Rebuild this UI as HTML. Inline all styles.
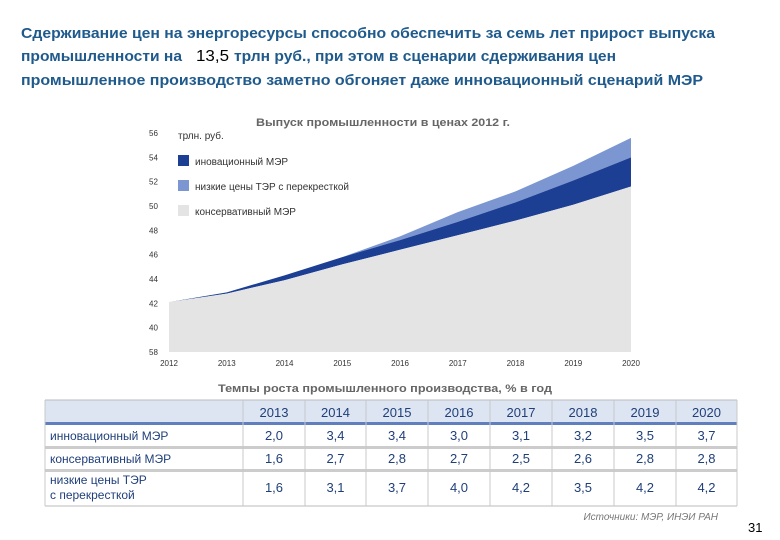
<!DOCTYPE html>
<html><head><meta charset="utf-8"><style>
html,body{margin:0;padding:0;background:#fff;}
svg{display:block;font-family:"Liberation Sans","DejaVu Sans",sans-serif;}
</style></head><body>
<svg id="s" width="780" height="540" viewBox="0 0 780 540">
<g fill="#1f5a8c" font-weight="bold" font-size="15">
<text x="21" y="38" textLength="694" lengthAdjust="spacingAndGlyphs">Сдерживание цен на энергоресурсы способно обеспечить за семь лет прирост выпуска</text>
<text x="21" y="61" textLength="161" lengthAdjust="spacingAndGlyphs">промышленности на</text>
<text x="196" y="61" fill="#000" font-weight="normal" font-size="16" textLength="33" lengthAdjust="spacingAndGlyphs">13,5</text>
<text x="234" y="61" textLength="382" lengthAdjust="spacingAndGlyphs">трлн руб., при этом в сценарии сдерживания цен</text>
<text x="21" y="85" textLength="682" lengthAdjust="spacingAndGlyphs">промышленное производство заметно обгоняет даже инновационный сценарий МЭР</text>
</g>
<text x="383" y="126" text-anchor="middle" font-size="11" font-weight="bold" fill="#666" textLength="254" lengthAdjust="spacingAndGlyphs">Выпуск промышленности в ценах 2012 г.</text>
<g id="chart"></g>
<g id="legend" font-size="10" fill="#333">
<text x="178" y="139">трлн. руб.</text>
<rect x="178" y="155" width="11" height="11" fill="#1c3f94"/>
<text x="195" y="165">иновационный МЭР</text>
<rect x="178" y="180" width="11" height="11" fill="#7b96d0"/>
<text x="195" y="190">низкие цены ТЭР с перекресткой</text>
<rect x="178" y="205" width="11" height="11" fill="#e4e4e4"/>
<text x="195" y="215">консервативный МЭР</text>
</g>
<text x="385" y="392" text-anchor="middle" font-size="11" font-weight="bold" fill="#666" textLength="334" lengthAdjust="spacingAndGlyphs">Темпы роста промышленного производства, % в   год</text>
<g id="table"></g>
<text x="718" y="520" text-anchor="end" font-size="10" font-style="italic" fill="#777">Источники: МЭР, ИНЭИ РАН</text>
<text x="748" y="532" font-size="13" fill="#000">31</text>
</svg>
<script>
const years=[2012,2013,2014,2015,2016,2017,2018,2019,2020];
const conservative=[42.1,42.8,43.9,45.2,46.4,47.6,48.8,50.1,51.6];
const innovation=[42.1,42.9,44.3,45.8,47.2,48.7,50.3,52.1,54.0];
const lowPrices=[42.1,42.9,44.3,45.8,47.5,49.5,51.2,53.3,55.6];
const yTicks=[38,40,42,44,46,48,50,52,54,56];
const yTickLabels=['58','40','42','44','46','48','50','52','54','56'];
const tableYears=['2013','2014','2015','2016','2017','2018','2019','2020'];
const rowLabels=[['инновационный МЭР'],['консервативный МЭР'],['низкие цены ТЭР','с перекресткой']];
const rowValues=[['2,0','3,4','3,4','3,0','3,1','3,2','3,5','3,7'],['1,6','2,7','2,8','2,7','2,5','2,6','2,8','2,8'],['1,6','3,1','3,7','4,0','4,2','3,5','4,2','4,2']];
const NS='http://www.w3.org/2000/svg';
function mk(tag,attrs,parent,txt){const e=document.createElementNS(NS,tag);for(const k in attrs)e.setAttribute(k,attrs[k]);if(txt!==undefined)e.textContent=txt;parent.appendChild(e);return e;}
const x=y=>169+(y-2012)*(631-169)/8;
const yv=v=>352-(v-38)*(352-133)/18;
const ch=document.getElementById('chart');
function area(top,bottom,fill,name){let d='M'+years.map((yr,i)=>x(yr)+','+yv(top[i])).join('L');
for(let i=years.length-1;i>=0;i--)d+='L'+x(years[i])+','+(bottom?yv(bottom[i]):yv(38));d+='Z';
const p=mk('path',{d:d,fill:fill},ch);}
area(lowPrices,innovation,'#7b96d0','area-low-prices');
area(innovation,conservative,'#1c3f94','area-innovation');
area(conservative,null,'#e4e4e4','area-conservative');
yTicks.forEach((t,i)=>{const e=mk('text',{x:149,y:yv(t)+3,'font-size':8,fill:'#333'},ch,yTickLabels[i]);});
years.forEach(yr=>{const e=mk('text',{x:x(yr),y:366,'font-size':8,fill:'#333','text-anchor':'middle'},ch,String(yr));});
const tb=document.getElementById('table');
const colX=[243,305,366,428,490,552,614,676,737];
mk('rect',{x:45,y:400,width:692,height:23,fill:'#dde5f3'},tb);
mk('rect',{x:45,y:422,width:692,height:3,fill:'#5f7fbf'},tb);
mk('rect',{x:45,y:446,width:692,height:3,fill:'#cccccc'},tb);
mk('rect',{x:45,y:469,width:692,height:3,fill:'#cccccc'},tb);
mk('line',{x1:45,y1:506,x2:737,y2:506,stroke:'#bbb'},tb);
mk('line',{x1:45,y1:400,x2:737,y2:400,stroke:'#bbb'},tb);
colX.forEach(cx=>mk('line',{x1:cx,y1:400,x2:cx,y2:506,stroke:'#c8c8c8'},tb));
mk('line',{x1:45,y1:400,x2:45,y2:506,stroke:'#c8c8c8'},tb);
tableYears.forEach((t,i)=>{const e=mk('text',{x:(colX[i]+colX[i+1])/2,y:417,'font-size':13,fill:'#1f3f7a','text-anchor':'middle'},tb,t);});
const rowY=[440,463,492];
rowLabels.forEach((lab,r)=>{lab.forEach((l,j)=>{const e=mk('text',{x:50,y:(lab.length>1?484+j*15:rowY[r]),'font-size':12,fill:'#1f3f7a'},tb,l);});
rowValues[r].forEach((v,i)=>{const e=mk('text',{x:(colX[i]+colX[i+1])/2,y:rowY[r],'font-size':13,fill:'#1f3f7a','text-anchor':'middle'},tb,v);});});
</script>
</body></html>
